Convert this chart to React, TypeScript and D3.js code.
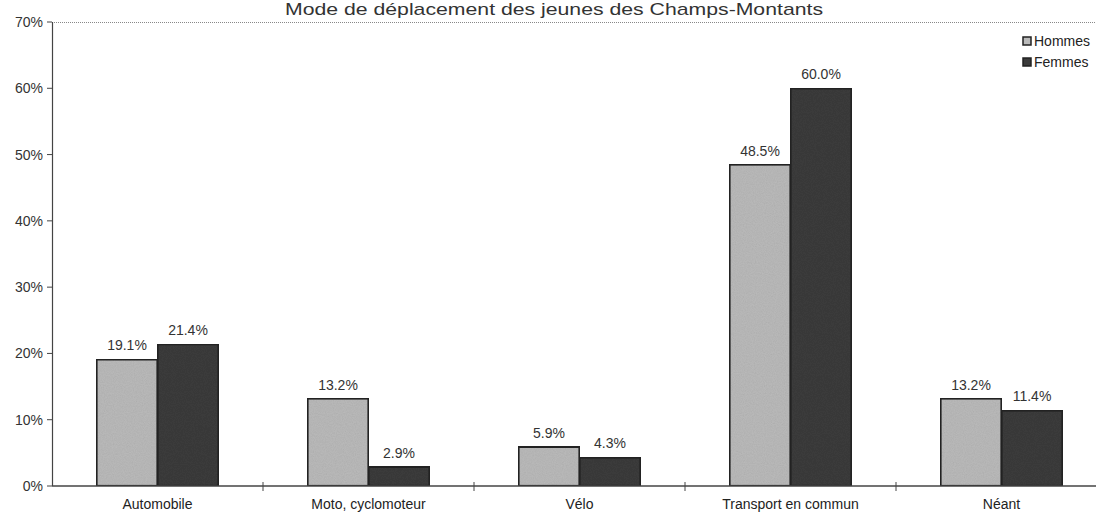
import React from "react";
import * as d3 from "d3";

const categories = ["Automobile", "Moto, cyclomoteur", "Vélo", "Transport en commun", "Néant"];
const hommes = [19.1, 13.2, 5.9, 48.5, 13.2];
const femmes = [21.4, 2.9, 4.3, 60.0, 11.4];
const seriesNames = ["Hommes", "Femmes"];
const yTicks = [0, 10, 20, 30, 40, 50, 60, 70];
const title = "Mode de déplacement des jeunes des Champs-Montants";

const W = 1096;
const H = 513;
const colors = ["#bababa", "#3b3b3b"];

export default function App() {
  const left = 52;
  const right = 1107;
  const top = 22;
  const bottom = 486;
  const x = d3.scaleBand<string>().domain(categories).range([left, right]).paddingInner(0).paddingOuter(0);
  const y = d3.scaleLinear().domain([0, 70]).range([bottom, top]);
  const barW = 61;
  const series = [hommes, femmes];
  const font = "'Liberation Sans', Arial, sans-serif";

  return (
    <svg width={W} height={H} style={{ position: "absolute", left: 0, top: 0, background: "#fff" }} fontFamily={font}>
      <defs>
        <filter id="grain" x="0" y="0" width="100%" height="100%">
          <feTurbulence type="fractalNoise" baseFrequency="0.9" numOctaves="2" seed="3" result="n" />
          <feColorMatrix type="saturate" values="0" in="n" result="g" />
          <feComponentTransfer in="g" result="g2">
            <feFuncA type="linear" slope="0.25" intercept="0" />
          </feComponentTransfer>
          <feComposite in="g2" in2="SourceGraphic" operator="in" result="c" />
          <feBlend in="SourceGraphic" in2="c" mode="multiply" />
        </filter>
      </defs>
      <rect x={0} y={0} width={W} height={H} fill="#fff" />
      <text x={554} y={15} textAnchor="middle" fontSize={17} fill="#333" textLength={538} lengthAdjust="spacingAndGlyphs">{title}</text>
      {/* top frame line */}
      <line x1={left} x2={W} y1={top + 0.5} y2={top + 0.5} stroke="#888" strokeWidth={1} strokeDasharray="1,1" />
      {/* y axis */}
      <line x1={left + 0.5} x2={left + 0.5} y1={top} y2={bottom} stroke="#444" strokeWidth={1.2} />
      {yTicks.map((t) => (
        <g key={t}>
          <line x1={left - 5} x2={left} y1={y(t)} y2={y(t)} stroke="#444" />
          <text x={left - 9} y={y(t) + 5} textAnchor="end" fontSize={14} fill="#333">{t}%</text>
        </g>
      ))}
      {/* bars */}
      {categories.map((c, i) => {
        const cx = (x(c) as number) + x.bandwidth() / 2;
        return (
          <g key={c}>
            {series.map((s, j) => {
              const bx = cx - barW + j * barW;
              return (
                <g key={j}>
                  <rect x={bx} y={y(s[i])} width={barW} height={bottom - y(s[i])} fill={colors[j]} stroke="#222" strokeWidth={2.2} filter="url(#grain)" />
                  <text x={bx + barW / 2} y={y(s[i]) - 9} textAnchor="middle" fontSize={14} fill="#333">{s[i].toFixed(1)}%</text>
                </g>
              );
            })}
            <text x={cx} y={509} textAnchor="middle" fontSize={14} fill="#222">{c}</text>
          </g>
        );
      })}
      {/* x axis */}
      <line x1={left} x2={W} y1={bottom} y2={bottom} stroke="#444" strokeWidth={1.5} />
      {categories.map((c, i) =>
        i === 0 ? null : (
          <line key={c} x1={x(c) as number} x2={x(c) as number} y1={bottom - 4} y2={bottom + 5} stroke="#444" />
        )
      )}
      {/* legend */}
      {seriesNames.map((n, j) => (
        <g key={n}>
          <rect x={1023} y={37 + j * 21} width={8} height={8} fill={colors[j]} stroke="#222" strokeWidth={1.5} />
          <text x={1034} y={46 + j * 21} fontSize={14} fill="#222">{n}</text>
        </g>
      ))}
    </svg>
  );
}
